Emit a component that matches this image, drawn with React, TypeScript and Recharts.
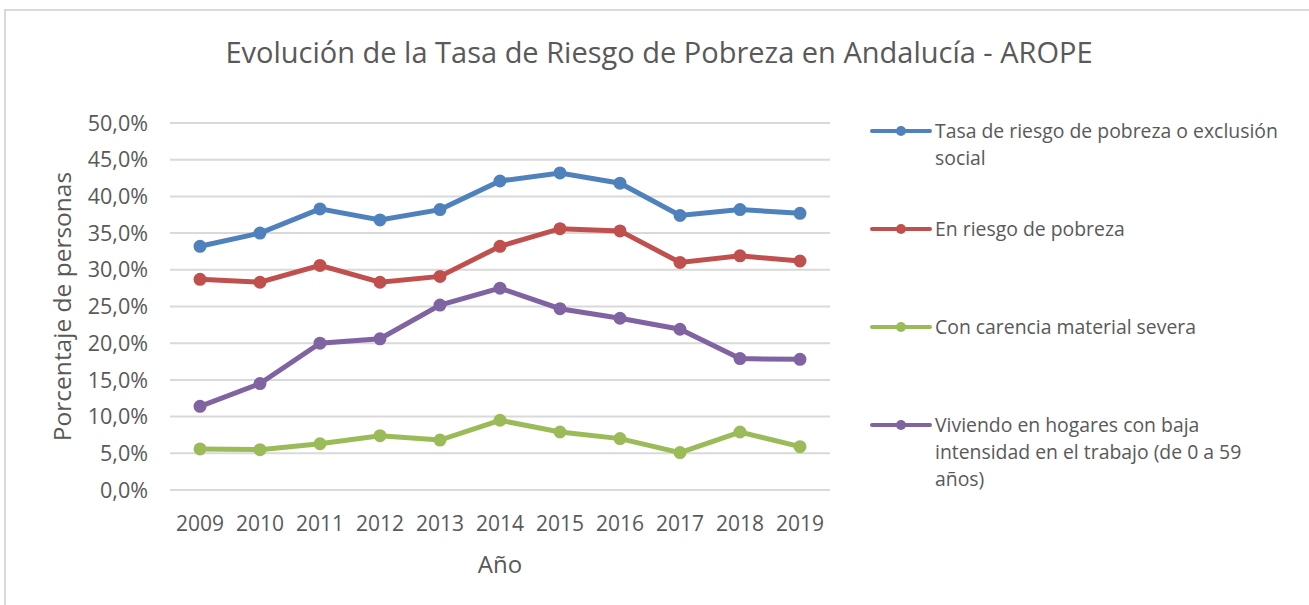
import React from 'react';
import { LineChart, Line, XAxis, YAxis, CartesianGrid, Legend } from 'recharts';

const years = ['2009', '2010', '2011', '2012', '2013', '2014', '2015', '2016', '2017', '2018', '2019'];
const tasaArope = [33.2, 35.0, 38.3, 36.8, 38.2, 42.1, 43.2, 41.8, 37.4, 38.2, 37.7];
const riesgoPobreza = [28.7, 28.3, 30.6, 28.3, 29.1, 33.2, 35.6, 35.3, 31.0, 31.9, 31.2];
const carenciaSevera = [5.6, 5.5, 6.3, 7.4, 6.8, 9.5, 7.9, 7.0, 5.1, 7.9, 5.9];
const bajaIntensidad = [11.4, 14.5, 20.0, 20.6, 25.2, 27.5, 24.7, 23.4, 21.9, 17.9, 17.8];
const yTicks = [0, 5, 10, 15, 20, 25, 30, 35, 40, 45, 50];

const seriesKeys = ['arope', 'riesgo', 'carencia', 'intensidad'];
const seriesNames = [
  'Tasa de riesgo de pobreza o exclusión social',
  'En riesgo de pobreza',
  'Con carencia material severa',
  'Viviendo en hogares con baja intensidad en el trabajo (de 0 a 59 años)',
];
const seriesColors = ['#4F81BD', '#C0504D', '#9BBB59', '#8064A2'];
const seriesValues = [tasaArope, riesgoPobreza, carenciaSevera, bajaIntensidad];

const data = years.map((y, i) => {
  const row: Record<string, string | number> = { year: y };
  seriesKeys.forEach((k, s) => {
    row[k] = seriesValues[s][i];
  });
  return row;
});

const FONT = '"Open Sans", sans-serif';
const TEXT = '#595959';

const fmt = (v: number) => `${v.toFixed(1).replace('.', ',')}%`;

const LegendContent = (props: any) => {
  const payload = [...(props.payload || [])].sort(
    (a: any, b: any) => seriesNames.indexOf(a.value) - seriesNames.indexOf(b.value)
  );
  return (
    <div style={{ position: 'absolute', left: 0, top: 0, width: 1309, height: 605, pointerEvents: 'none' }}>
      {payload.map((p: any, i: number) => {
        const cy = 131 + i * 98;
        return (
          <div key={i} style={{ position: 'absolute', left: 870, top: cy - 14 }}>
            <svg width={64} height={28} style={{ position: 'absolute', left: 0, top: 0 }}>
              <line x1={2} y1={14} x2={60} y2={14} stroke={p.color} strokeWidth={4} strokeLinecap="round" />
              <circle cx={31} cy={14} r={5} fill={p.color} />
            </svg>
            <div
              style={{
                position: 'absolute',
                left: 65,
                top: 0,
                width: 352,
                fontFamily: FONT,
                fontSize: 19.4,
                lineHeight: '27px',
                color: TEXT,
              }}
            >
              {p.value}
            </div>
          </div>
        );
      })}
    </div>
  );
};

export default function App() {
  return (
    <div style={{ position: 'absolute', left: 0, top: 0, width: 1309, height: 605, background: '#fff', overflow: 'hidden' }}>
      <div style={{ position: 'absolute', left: 4, top: 9, width: 1305, height: 2, background: '#d9d9d9' }} />
      <div style={{ position: 'absolute', left: 4, top: 9, width: 2, height: 596, background: '#d9d9d9' }} />
      <div
        style={{
          position: 'absolute',
          left: 0,
          width: 1318,
          top: 32,
          textAlign: 'center',
          fontFamily: FONT,
          fontSize: 29,
          color: TEXT,
          lineHeight: '40px',
        }}
      >
        Evolución de la Tasa de Riesgo de Pobreza en Andalucía - AROPE
      </div>
      <LineChart
        width={1309}
        height={605}
        data={data}
        margin={{ top: 123, right: 479, bottom: 65, left: 0 }}
        style={{ position: 'absolute', left: 0, top: 0 }}
      >
        <CartesianGrid vertical={false} stroke="#d9d9d9" strokeWidth={2} />
        <XAxis
          dataKey="year"
          height={50}
          padding={{ left: 30, right: 30 }}
          tickLine={false}
          axisLine={{ stroke: '#d9d9d9', strokeWidth: 2 }}
          tickSize={0}
          tickMargin={26}
          tick={{ fill: TEXT, fontSize: 21, fontFamily: FONT }}
          label={{ value: 'Año', position: 'bottom', offset: 16, fill: TEXT, fontSize: 24, fontFamily: FONT }}
        />
        <YAxis
          width={170}
          domain={[0, 50]}
          ticks={yTicks}
          tickFormatter={fmt}
          tickLine={false}
          axisLine={false}
          tickSize={0}
          tickMargin={22}
          tick={{ fill: TEXT, fontSize: 21.5, fontFamily: FONT }}
          label={{
            value: 'Porcentaje de personas',
            angle: -90,
            position: 'insideLeft',
            offset: 62,
            fill: TEXT,
            fontSize: 24.5,
            fontFamily: FONT,
            style: { textAnchor: 'middle' },
          }}
        />
        <Legend
          layout="horizontal"
          verticalAlign="middle"
          align="center"
          content={<LegendContent />}
          wrapperStyle={{ position: 'absolute', left: 0, top: 0, width: 1309, height: 605 }}
        />
        {seriesKeys.map((k, s) => (
          <Line
            key={k}
            type="linear"
            dataKey={k}
            name={seriesNames[s]}
            stroke={seriesColors[s]}
            strokeWidth={5}
            dot={{ r: 5.5, fill: seriesColors[s], stroke: seriesColors[s], strokeWidth: 2 }}
            activeDot={false}
            isAnimationActive={false}
          />
        ))}
      </LineChart>
    </div>
  );
}
